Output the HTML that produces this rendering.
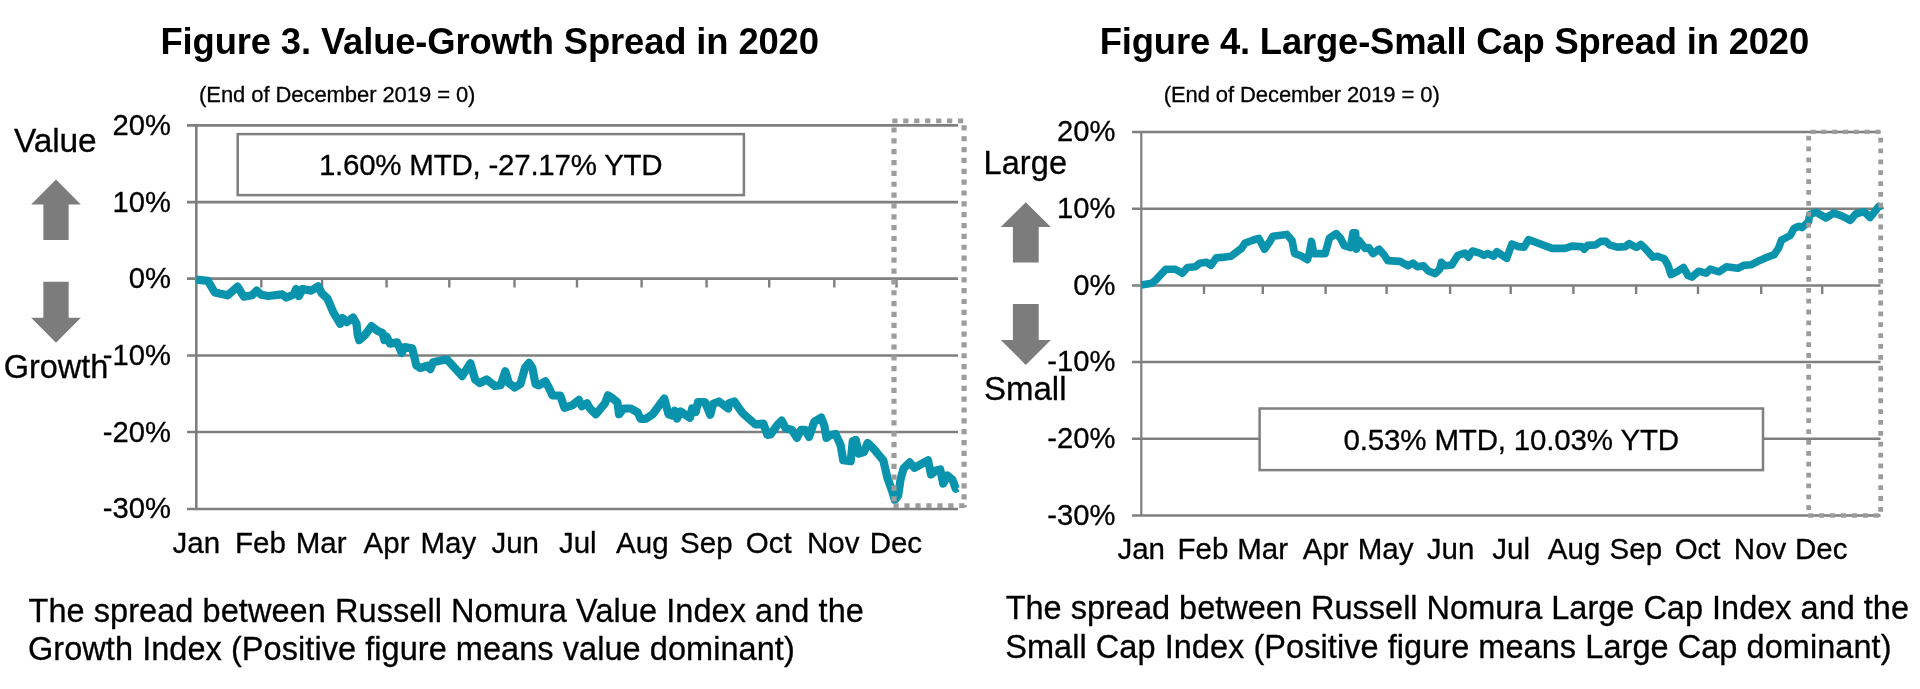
<!DOCTYPE html><html><head><meta charset="utf-8"><title>Figures 3 and 4</title><style>
html,body{margin:0;padding:0;background:#fff}body{width:1920px;height:689px;position:relative;overflow:hidden;font-family:"Liberation Sans",sans-serif;color:#000}
.t{position:absolute;white-space:nowrap;line-height:1;-webkit-text-stroke:0.3px #000}
</style></head><body>
<svg width="1920" height="689" viewBox="0 0 1920 689" style="position:absolute;left:0;top:0">
<line x1="187" y1="125.4" x2="958" y2="125.4" stroke="#7f7f7f" stroke-width="2.7"/>
<line x1="187" y1="202.2" x2="958" y2="202.2" stroke="#7f7f7f" stroke-width="2.7"/>
<line x1="187" y1="278.6" x2="958" y2="278.6" stroke="#7f7f7f" stroke-width="2.7"/>
<line x1="187" y1="355.5" x2="958" y2="355.5" stroke="#7f7f7f" stroke-width="2.7"/>
<line x1="187" y1="432" x2="958" y2="432" stroke="#7f7f7f" stroke-width="2.7"/>
<line x1="187" y1="509" x2="958" y2="509" stroke="#7f7f7f" stroke-width="2.7"/>
<line x1="196.3" y1="125.4" x2="196.3" y2="509" stroke="#7f7f7f" stroke-width="2.6"/>
<line x1="261.3" y1="278.6" x2="261.3" y2="287.5" stroke="#7f7f7f" stroke-width="2.4"/>
<line x1="322.1" y1="278.6" x2="322.1" y2="287.5" stroke="#7f7f7f" stroke-width="2.4"/>
<line x1="386.6" y1="278.6" x2="386.6" y2="287.5" stroke="#7f7f7f" stroke-width="2.4"/>
<line x1="449.3" y1="278.6" x2="449.3" y2="287.5" stroke="#7f7f7f" stroke-width="2.4"/>
<line x1="514.5" y1="278.6" x2="514.5" y2="287.5" stroke="#7f7f7f" stroke-width="2.4"/>
<line x1="577" y1="278.6" x2="577" y2="287.5" stroke="#7f7f7f" stroke-width="2.4"/>
<line x1="641.6" y1="278.6" x2="641.6" y2="287.5" stroke="#7f7f7f" stroke-width="2.4"/>
<line x1="706.6" y1="278.6" x2="706.6" y2="287.5" stroke="#7f7f7f" stroke-width="2.4"/>
<line x1="769.2" y1="278.6" x2="769.2" y2="287.5" stroke="#7f7f7f" stroke-width="2.4"/>
<line x1="834.3" y1="278.6" x2="834.3" y2="287.5" stroke="#7f7f7f" stroke-width="2.4"/>
<line x1="896.5" y1="278.6" x2="896.5" y2="287.5" stroke="#7f7f7f" stroke-width="2.4"/>
<line x1="1132" y1="132" x2="1880.5" y2="132" stroke="#7f7f7f" stroke-width="2.4"/>
<line x1="1132" y1="208.8" x2="1880.5" y2="208.8" stroke="#7f7f7f" stroke-width="2.4"/>
<line x1="1132" y1="285.5" x2="1880.5" y2="285.5" stroke="#7f7f7f" stroke-width="2.4"/>
<line x1="1132" y1="362" x2="1880.5" y2="362" stroke="#7f7f7f" stroke-width="2.4"/>
<line x1="1132" y1="438.7" x2="1880.5" y2="438.7" stroke="#7f7f7f" stroke-width="2.4"/>
<line x1="1132" y1="515.5" x2="1880.5" y2="515.5" stroke="#7f7f7f" stroke-width="2.4"/>
<line x1="1141.3" y1="132" x2="1141.3" y2="515.5" stroke="#7f7f7f" stroke-width="2.2"/>
<line x1="1204" y1="285.5" x2="1204" y2="294" stroke="#7f7f7f" stroke-width="2.4"/>
<line x1="1262.8" y1="285.5" x2="1262.8" y2="294" stroke="#7f7f7f" stroke-width="2.4"/>
<line x1="1325.6" y1="285.5" x2="1325.6" y2="294" stroke="#7f7f7f" stroke-width="2.4"/>
<line x1="1386.6" y1="285.5" x2="1386.6" y2="294" stroke="#7f7f7f" stroke-width="2.4"/>
<line x1="1450.1" y1="285.5" x2="1450.1" y2="294" stroke="#7f7f7f" stroke-width="2.4"/>
<line x1="1510.7" y1="285.5" x2="1510.7" y2="294" stroke="#7f7f7f" stroke-width="2.4"/>
<line x1="1573.4" y1="285.5" x2="1573.4" y2="294" stroke="#7f7f7f" stroke-width="2.4"/>
<line x1="1636.1" y1="285.5" x2="1636.1" y2="294" stroke="#7f7f7f" stroke-width="2.4"/>
<line x1="1698" y1="285.5" x2="1698" y2="294" stroke="#7f7f7f" stroke-width="2.4"/>
<line x1="1761.2" y1="285.5" x2="1761.2" y2="294" stroke="#7f7f7f" stroke-width="2.4"/>
<line x1="1822.2" y1="285.5" x2="1822.2" y2="294" stroke="#7f7f7f" stroke-width="2.4"/>
<rect x="237.7" y="134.1" width="506.2" height="61" fill="#fff" stroke="#7f7f7f" stroke-width="2.5"/>
<rect x="1259.6" y="408.5" width="503.4" height="61.6" fill="#fff" stroke="#7f7f7f" stroke-width="2.5"/>
<polyline points="196.3,279.7 207.9,280.9 214.8,292.5 227.6,295.3 237.6,286.7 243.8,296.7 252.0,295.3 256.6,290.6 261.3,294.8 268.2,296.0 282.2,294.4 286.3,297.6 293.8,294.4 296.1,289.0 298.9,296.0 302.6,289.0 311.2,290.6 318.1,286.2 322.1,293.7 327.4,298.3 333.2,312.2 340.2,323.8 342.5,318.0 346.7,322.2 353.0,317.6 356.5,323.8 357.6,334.3 359.2,340.1 364.6,335.5 371.5,326.2 377.4,330.8 382.5,333.1 384.3,340.1 386.6,336.6 390.1,343.6 397.1,342.4 401.7,352.9 404.7,347.1 412.2,348.2 416.4,365.6 420.3,368.0 427.3,365.6 430.3,369.1 433.1,362.2 442.4,360.3 447.0,359.4 462.1,376.1 470.4,363.2 475.1,379.5 479.7,383.0 486.7,379.5 494.8,386.0 500.6,385.3 505.3,371.3 508.8,383.0 514.6,387.6 520.4,384.1 525.0,367.9 529.0,362.8 532.4,367.9 535.5,384.1 538.9,385.3 545.4,381.3 549.4,388.8 552.4,395.3 560.3,395.7 564.5,407.8 572.6,405.0 578.9,399.9 581.9,406.2 587.0,403.2 590.0,408.5 595.8,414.3 601.6,407.3 605.1,403.2 607.9,395.3 612.1,398.0 617.4,402.2 619.0,414.3 623.7,408.5 630.7,408.5 637.6,412.4 640.6,418.9 645.7,418.9 652.7,414.3 664.3,398.5 668.5,414.3 672.4,415.5 674.8,410.8 677.1,418.5 680.6,411.5 689.9,417.8 692.2,408.5 695.7,412.0 698.0,402.2 705.0,402.2 710.3,414.8 713.1,403.8 718.9,401.5 728.2,408.5 729.3,403.2 734.4,401.5 740.9,410.8 743.0,413.5 755.2,424.3 763.4,423.7 767.4,434.9 770.5,434.5 777.6,424.7 781.7,420.6 785.7,428.4 791.8,429.8 796.9,437.9 801.0,429.8 805.0,429.8 809.1,436.9 814.2,421.7 821.3,417.6 824.3,425.7 826.4,437.9 830.4,434.9 835.5,433.9 840.6,445.0 843.2,460.3 850.7,461.3 852.8,441.0 855.8,439.9 858.9,453.6 864.0,452.1 867.6,443.0 873.1,448.1 883.3,460.3 887.3,477.5 892.4,491.8 894.8,499.9 898.1,495.8 900.5,479.6 903.6,468.4 909.7,462.3 914.4,467.8 928.0,460.3 931.0,474.5 936.1,470.4 940.2,469.4 943.2,483.6 947.3,475.5 952.4,479.6 955.8,488.7 957.4,487.7" fill="none" stroke="#0a93ad" stroke-width="8.2" stroke-linejoin="round" stroke-linecap="butt"/>
<polyline points="1141.3,285.0 1151.8,283.2 1156.1,279.7 1165.7,269.3 1175.3,269.3 1182.3,273.3 1187.5,267.5 1195.3,266.7 1199.7,263.2 1206.7,262.3 1211.0,265.3 1216.2,257.9 1224.9,257.1 1231.0,256.2 1241.5,248.4 1245.0,243.1 1252.0,240.5 1258.9,238.4 1264.5,249.2 1269.4,242.3 1272.9,236.2 1286.8,234.4 1292.0,240.5 1294.6,253.6 1299.9,255.3 1307.4,259.7 1309.4,252.7 1311.5,241.4 1313.8,253.6 1325.1,253.6 1329.5,237.9 1336.4,233.6 1340.8,238.8 1344.3,245.7 1350.4,247.5 1353.0,232.7 1355.6,232.7 1356.5,249.2 1359.1,240.5 1365.2,248.4 1368.7,247.5 1373.0,253.6 1379.1,249.2 1384.4,255.3 1387.8,260.6 1400.0,261.4 1407.9,265.8 1413.1,263.2 1417.5,266.7 1423.6,265.8 1428.3,271.0 1435.3,273.6 1439.6,269.3 1441.4,262.3 1444.8,265.8 1451.8,264.9 1457.9,255.3 1464.9,253.1 1468.4,257.1 1472.4,251.0 1479.7,253.1 1484.0,255.3 1487.5,253.6 1493.6,256.2 1496.8,251.8 1506.7,258.3 1511.9,244.0 1518.0,246.6 1524.1,247.1 1528.5,239.7 1538.0,243.1 1552.0,248.4 1565.0,248.4 1572.0,246.1 1581.6,246.6 1584.2,249.2 1587.7,245.4 1595.5,244.9 1600.8,241.4 1606.0,241.4 1609.5,244.9 1617.3,247.1 1625.2,246.6 1629.2,243.7 1636.5,247.5 1640.8,244.4 1644.3,247.5 1653.0,257.1 1657.4,256.2 1664.4,258.8 1667.8,264.9 1671.0,274.5 1676.6,271.9 1683.5,267.5 1687.9,275.4 1691.9,277.1 1698.7,271.2 1706.0,273.2 1710.3,269.2 1719.0,271.8 1726.3,266.8 1737.9,268.3 1743.7,265.4 1751.0,264.8 1759.7,260.4 1768.4,256.7 1774.2,254.6 1778.6,248.0 1781.5,240.1 1790.2,235.5 1794.0,228.5 1798.9,226.2 1801.8,227.6 1808.5,221.8 1809.7,214.6 1816.3,212.2 1825.9,218.0 1833.8,213.1 1839.6,215.1 1843.9,216.9 1850.3,220.4 1855.6,214.0 1864.3,211.7 1870.1,217.5 1875.9,210.2 1878.8,206.4 1880.8,210.2" fill="none" stroke="#0a93ad" stroke-width="7.6" stroke-linejoin="round" stroke-linecap="butt"/>
<line x1="894" y1="127.40" x2="894" y2="507.5" stroke="#9c9c9c" stroke-width="5.2" stroke-dasharray="5.2 5.65"/>
<line x1="964.1" y1="125.30" x2="964.1" y2="507.5" stroke="#9c9c9c" stroke-width="5.2" stroke-dasharray="5.2 5.65"/>
<line x1="892.30" y1="120.9" x2="963.4" y2="120.9" stroke="#9c9c9c" stroke-width="4.6" stroke-dasharray="5.2 5.75"/>
<line x1="893.50" y1="505.6" x2="965.2" y2="505.6" stroke="#9c9c9c" stroke-width="4.6" stroke-dasharray="5.2 5.75"/>
<line x1="1808.7" y1="135.70" x2="1808.7" y2="510.5" stroke="#9c9c9c" stroke-width="4.8" stroke-dasharray="4.8 6.07"/>
<line x1="1880.7" y1="137.70" x2="1880.7" y2="512" stroke="#9c9c9c" stroke-width="4.8" stroke-dasharray="4.8 6.06"/>
<line x1="1810.60" y1="131.9" x2="1880.5" y2="131.9" stroke="#9c9c9c" stroke-width="4.4" stroke-dasharray="5.0 5.80"/>
<line x1="1808.30" y1="515.5" x2="1879" y2="515.5" stroke="#9c9c9c" stroke-width="4.4" stroke-dasharray="5.0 5.90"/>
<polygon points="56.0,179.6 80.8,204.4 68.65,204.4 68.65,240 43.35,240 43.35,204.4 31.2,204.4" fill="#7c7c7c"/>
<polygon points="56.0,342.8 80.8,317.8 68.65,317.8 68.65,281.7 43.35,281.7 43.35,317.8 31.2,317.8" fill="#7c7c7c"/>
<polygon points="1025.8,202.3 1050.8,227.10000000000002 1038.7,227.10000000000002 1038.7,262.4 1012.9,262.4 1012.9,227.10000000000002 1000.8,227.10000000000002" fill="#7c7c7c"/>
<polygon points="1025.8,364.9 1050.8,339.9 1038.7,339.9 1038.7,303.9 1012.9,303.9 1012.9,339.9 1000.8,339.9" fill="#7c7c7c"/>
</svg>
<div id="labels" style="position:absolute;left:0;top:0;width:1920px;height:689px;will-change:transform">
<div class="t" style="left:160.5px;top:24.12px;font-size:36.4px;font-weight:bold;-webkit-text-stroke:0;letter-spacing:-0.135px;">Figure 3. Value-Growth Spread in 2020</div>
<div class="t" style="left:1099.8px;top:24.12px;font-size:36.4px;font-weight:bold;-webkit-text-stroke:0;letter-spacing:-0.169px;">Figure 4. Large-Small Cap Spread in 2020</div>
<div class="t" style="left:199.1px;top:84.12px;font-size:22.0px;letter-spacing:-0.075px;">(End of December 2019 = 0)</div>
<div class="t" style="left:1163.7px;top:84.12px;font-size:22.0px;letter-spacing:-0.083px;">(End of December 2019 = 0)</div>
<div class="t" style="left:13.9px;top:124.12px;font-size:33.5px;letter-spacing:-0.091px;">Value</div>
<div class="t" style="left:3.8px;top:351.12px;font-size:32.5px;letter-spacing:-0.055px;">Growth</div>
<div class="t" style="left:983.5px;top:147.12px;font-size:32.5px;letter-spacing:0.088px;">Large</div>
<div class="t" style="left:984.0px;top:372.12px;font-size:33.0px;letter-spacing:0.004px;">Small</div>
<div class="t" style="left:318.9px;top:150.12px;font-size:29.5px;letter-spacing:-0.233px;">1.60% MTD, -27.17% YTD</div>
<div class="t" style="left:1343.6px;top:425.12px;font-size:29.5px;letter-spacing:-0.169px;">0.53% MTD, 10.03% YTD</div>
<div class="t" style="left:28.5px;top:595.12px;font-size:32.5px;letter-spacing:0.06px;">The spread between Russell Nomura Value Index and the</div>
<div class="t" style="left:28.0px;top:633.12px;font-size:32.5px;letter-spacing:0.052px;">Growth Index (Positive figure means value dominant)</div>
<div class="t" style="left:1005.7px;top:592.12px;font-size:32.5px;">The spread between Russell Nomura Large Cap Index and the</div>
<div class="t" style="left:1005.2px;top:631.12px;font-size:32.5px;letter-spacing:0.052px;">Small Cap Index (Positive figure means Large Cap dominant)</div>
<div class="t" style="left:112.43px;top:111.12px;font-size:29.2px;">20%</div>
<div class="t" style="left:112.43px;top:188.12px;font-size:29.2px;">10%</div>
<div class="t" style="left:128.67px;top:264.12px;font-size:29.2px;">0%</div>
<div class="t" style="left:102.71px;top:341.12px;font-size:29.2px;">-10%</div>
<div class="t" style="left:102.71px;top:418.12px;font-size:29.2px;">-20%</div>
<div class="t" style="left:102.71px;top:494.12px;font-size:29.2px;">-30%</div>
<div class="t" style="left:1056.93px;top:117.12px;font-size:29.2px;">20%</div>
<div class="t" style="left:1056.93px;top:194.12px;font-size:29.2px;">10%</div>
<div class="t" style="left:1073.17px;top:271.12px;font-size:29.2px;">0%</div>
<div class="t" style="left:1047.21px;top:347.12px;font-size:29.2px;">-10%</div>
<div class="t" style="left:1047.21px;top:424.12px;font-size:29.2px;">-20%</div>
<div class="t" style="left:1047.21px;top:501.12px;font-size:29.2px;">-30%</div>
<div class="t" style="left:172.52px;top:528.12px;font-size:29.5px;">Jan</div>
<div class="t" style="left:234.99px;top:528.12px;font-size:29.5px;">Feb</div>
<div class="t" style="left:295.81px;top:528.12px;font-size:29.5px;">Mar</div>
<div class="t" style="left:363.56px;top:528.12px;font-size:29.5px;">Apr</div>
<div class="t" style="left:420.41px;top:528.12px;font-size:29.5px;">May</div>
<div class="t" style="left:491.42px;top:528.12px;font-size:29.5px;">Jun</div>
<div class="t" style="left:558.92px;top:528.12px;font-size:29.5px;">Jul</div>
<div class="t" style="left:616.06px;top:528.12px;font-size:29.5px;">Aug</div>
<div class="t" style="left:680.06px;top:528.12px;font-size:29.5px;">Sep</div>
<div class="t" style="left:745.85px;top:528.12px;font-size:29.5px;">Oct</div>
<div class="t" style="left:806.94px;top:528.12px;font-size:29.5px;">Nov</div>
<div class="t" style="left:869.64px;top:528.12px;font-size:29.5px;">Dec</div>
<div class="t" style="left:1117.42px;top:534.12px;font-size:29.5px;">Jan</div>
<div class="t" style="left:1177.49px;top:534.12px;font-size:29.5px;">Feb</div>
<div class="t" style="left:1237.31px;top:534.12px;font-size:29.5px;">Mar</div>
<div class="t" style="left:1302.76px;top:534.12px;font-size:29.5px;">Apr</div>
<div class="t" style="left:1357.81px;top:534.12px;font-size:29.5px;">May</div>
<div class="t" style="left:1426.72px;top:534.12px;font-size:29.5px;">Jun</div>
<div class="t" style="left:1492.32px;top:534.12px;font-size:29.5px;">Jul</div>
<div class="t" style="left:1547.86px;top:534.12px;font-size:29.5px;">Aug</div>
<div class="t" style="left:1609.56px;top:534.12px;font-size:29.5px;">Sep</div>
<div class="t" style="left:1674.65px;top:534.12px;font-size:29.5px;">Oct</div>
<div class="t" style="left:1733.84px;top:534.12px;font-size:29.5px;">Nov</div>
<div class="t" style="left:1794.94px;top:534.12px;font-size:29.5px;">Dec</div>
</div>
</body></html>
